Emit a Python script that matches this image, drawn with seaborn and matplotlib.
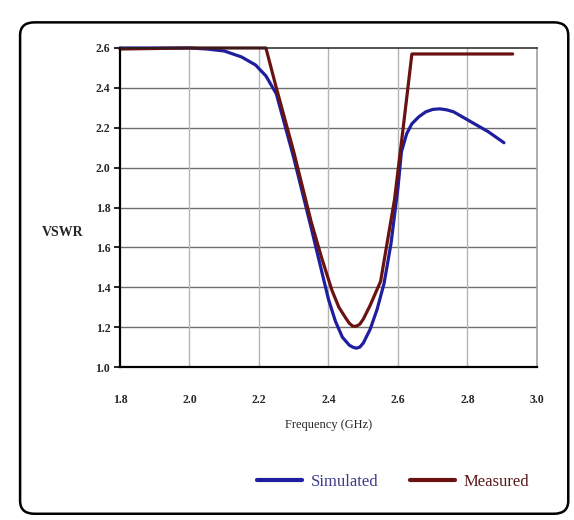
import numpy as np
import pandas as pd
import matplotlib.pyplot as plt
import seaborn as sns
from matplotlib.patches import FancyBboxPatch

# Data
sim_freq = [1.80, 1.90, 2.00, 2.05, 2.10, 2.15, 2.19, 2.22, 2.25, 2.30, 2.35, 2.40,
            2.42, 2.44, 2.46, 2.47, 2.48, 2.49, 2.50, 2.52, 2.54, 2.56, 2.58, 2.60,
            2.61, 2.625, 2.64, 2.66, 2.68, 2.70, 2.72, 2.74, 2.76, 2.80, 2.86, 2.905]
sim_vswr = [2.60, 2.60, 2.60, 2.595, 2.585, 2.555, 2.515, 2.46, 2.37, 2.05, 1.70, 1.34,
            1.23, 1.15, 1.11, 1.10, 1.095, 1.10, 1.12, 1.19, 1.29, 1.42, 1.62, 1.90,
            2.08, 2.17, 2.22, 2.255, 2.28, 2.292, 2.295, 2.29, 2.28, 2.24, 2.18, 2.125]

meas_freq = [1.80, 2.00, 2.22, 2.25, 2.30, 2.35, 2.38, 2.41, 2.43, 2.45, 2.46, 2.47,
             2.48, 2.49, 2.50, 2.52, 2.55, 2.59, 2.615, 2.64, 2.93]
meas_vswr = [2.595, 2.60, 2.60, 2.40, 2.08, 1.73, 1.55, 1.385, 1.30, 1.245, 1.22, 1.205,
             1.205, 1.215, 1.24, 1.31, 1.43, 1.84, 2.20, 2.57, 2.57]

x_ticks = [1.8, 2.0, 2.2, 2.4, 2.6, 2.8, 3.0]
y_ticks = [1.0, 1.2, 1.4, 1.6, 1.8, 2.0, 2.2, 2.4, 2.6]

sim_color = '#1e1e9e'
meas_color = '#6a1212'

sns.set_theme(style='white')
plt.rcParams['font.family'] = ['Liberation Serif', 'DejaVu Serif']

df = pd.concat([
    pd.DataFrame({'Frequency': sim_freq, 'VSWR': sim_vswr, 'Series': 'Simulated'}),
    pd.DataFrame({'Frequency': meas_freq, 'VSWR': meas_vswr, 'Series': 'Measured'}),
])

fig = plt.figure(figsize=(5.74, 5.2), dpi=100)
ax = fig.add_axes([0.209, 0.294, 0.7265, 0.6137])

sns.lineplot(data=df, x='Frequency', y='VSWR', hue='Series', sort=False,
             palette={'Simulated': sim_color, 'Measured': meas_color},
             linewidth=2.3, ax=ax, legend=False, clip_on=False)
for line in ax.get_lines():
    line.set_solid_joinstyle('round')

ax.set_xlim(1.8, 3.0)
ax.set_ylim(1.0, 2.6)
ax.set_xticks(x_ticks)
ax.set_yticks(y_ticks)
ax.set_xticklabels([f'{v:.1f}' for v in x_ticks], fontsize=8.5, fontweight='bold')
ax.set_yticklabels([f'{v:.1f}' for v in y_ticks], fontsize=8.5, fontweight='bold')

# grid: darker horizontal, lighter vertical
ax.grid(False)
for y in y_ticks[1:-1]:
    ax.axhline(y, color='#6e6e6e', lw=1.0, zorder=0)
for x in x_ticks[1:-1]:
    ax.axvline(x, color='#b4b4b4', lw=1.0, zorder=0)

ax.tick_params(axis='y', which='major', direction='out', length=4, width=1.2,
               color='black', left=True, pad=3)
ax.tick_params(axis='x', which='major', length=0, pad=19)

for side in ['left', 'bottom']:
    ax.spines[side].set_color('black')
    ax.spines[side].set_linewidth(1.6)
ax.spines['top'].set_color('#222222')
ax.spines['top'].set_linewidth(1.1)
ax.spines['right'].set_color('#a0a0a0')
ax.spines['right'].set_linewidth(1.2)

ax.set_xlabel('Frequency (GHz)', fontsize=9, labelpad=10)
ax.set_ylabel('')
fig.text(0.11, 0.553, 'VSWR', fontsize=10, fontweight='bold', ha='center', va='center')

# legend below the plot
handles = [plt.Line2D([], [], color=sim_color, lw=3),
           plt.Line2D([], [], color=meas_color, lw=3)]
leg = fig.legend(handles, ['Simulated', 'Measured'], loc='center',
                 bbox_to_anchor=(0.685, 0.073), ncol=2, frameon=False,
                 fontsize=12, handlelength=2.7, handletextpad=0.5,
                 columnspacing=1.9)
leg.get_texts()[0].set_color('#3c3c8c')
leg.get_texts()[1].set_color('#5a1a1a')

# rounded frame around the whole figure
frame = FancyBboxPatch((0.035, 0.012), 0.955, 0.945,
                       boxstyle='round,pad=0,rounding_size=0.025',
                       transform=fig.transFigure, fill=False,
                       edgecolor='black', linewidth=1.8)
fig.patches.append(frame)

fig.savefig('out.png', dpi=100)
